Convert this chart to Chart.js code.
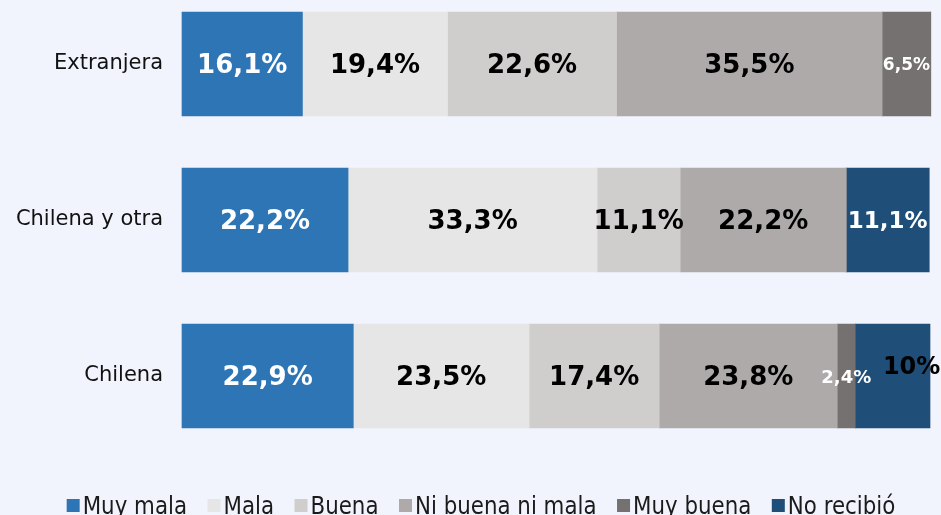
<!DOCTYPE html>
<html lang="es">
<head>
<meta charset="utf-8">
<title>Evaluación por nacionalidad</title>
<script src="https://cdn.jsdelivr.net/npm/chart.js@4.4.1/dist/chart.umd.min.js"></script>
<style>
  html, body { margin: 0; padding: 0; background: #f1f4fc; overflow: hidden; }
  #wrap { width: 941px; height: 515px; position: relative; }
</style>
</head>
<body>
<div id="wrap"><canvas id="chart" width="941" height="515"></canvas></div>
<script>
// categorias y series (porcentajes)
const categories = ["Extranjera", "Chilena y otra", "Chilena"];
const seriesNames = ["Muy mala", "Mala", "Buena", "Ni buena ni mala", "Muy buena", "No recibió"];
const muyMala = [16.1, 22.2, 22.9];
const mala = [19.4, 33.3, 23.5];
const buena = [22.6, 11.1, 17.4];
const niBuenaNiMala = [35.5, 22.2, 23.8];
const muyBuena = [6.5, 0, 2.4];
const noRecibio = [0, 11.1, 10];

const seriesValues = [muyMala, mala, buena, niBuenaNiMala, muyBuena, noRecibio];
const seriesColors = ["#2e75b6", "#e7e6e6", "#d0cecd", "#aeaaaa", "#757171", "#1f4e79"];
const labelColors = ["#ffffff", "#000000", "#000000", "#000000", "#ffffff", "#ffffff"];

// ajustes puntuales de etiquetas: "serie,categoria"
const labelTweaks = {
  "4,0": { size: 17 },
  "4,2": { size: 18 },
  "5,1": { size: 23 },
  "5,2": { size: 24, color: "#000000", dx: 19, dy: -10 }
};

const fmt = v => (Number.isInteger(v) ? String(v) : v.toFixed(1).replace(".", ",")) + "%";

// etiquetas dentro de las barras
const barLabels = {
  id: "barLabels",
  afterDatasetsDraw(chart) {
    const ctx = chart.ctx;
    ctx.save();
    ctx.textAlign = "center";
    ctx.textBaseline = "middle";
    chart.data.datasets.forEach((ds, i) => {
      const meta = chart.getDatasetMeta(i);
      meta.data.forEach((bar, j) => {
        const v = ds.data[j];
        if (!v) return;
        const t = labelTweaks[i + "," + j] || {};
        const size = t.size || 26;
        ctx.font = "bold " + size + "px 'DejaVu Sans', Verdana, sans-serif";
        ctx.fillStyle = t.color || labelColors[i];
        const cx = (bar.x + bar.base) / 2 + (t.dx || 0);
        const cy = bar.y + 2 + (t.dy || 0);
        ctx.fillText(fmt(v), cx, cy);
      });
    });
    ctx.restore();
  }
};

// leyenda inferior con cuadros pequeños
const bottomLegend = {
  id: "bottomLegend",
  afterDraw(chart) {
    const ctx = chart.ctx;
    const squeeze = 0.89;
    const box = 13, gapBox = 3, gapItem = 20.5;
    ctx.save();
    ctx.font = "24px 'DejaVu Sans', Verdana, sans-serif";
    const widths = chart.data.datasets.map(ds => ctx.measureText(ds.label).width * squeeze);
    const total = widths.reduce((a, w) => a + w + box + gapBox, 0) + gapItem * (widths.length - 1);
    let x = 481 - total / 2;
    const baseline = 513.5;
    chart.data.datasets.forEach((ds, i) => {
      ctx.fillStyle = ds.backgroundColor;
      ctx.fillRect(x, baseline - 14.5, box, box);
      x += box + gapBox;
      ctx.save();
      ctx.translate(x, baseline);
      ctx.scale(squeeze, 1);
      ctx.fillStyle = "#1a1a1a";
      ctx.textBaseline = "alphabetic";
      ctx.fillText(ds.label, 0, 0);
      ctx.restore();
      x += widths[i] + gapItem;
    });
    ctx.restore();
  }
};

new Chart(document.getElementById("chart"), {
  type: "bar",
  data: {
    labels: categories,
    datasets: seriesNames.map((name, i) => ({
      label: name,
      data: seriesValues[i],
      backgroundColor: seriesColors[i],
      borderWidth: 0,
      barThickness: 104,
      clip: false
    }))
  },
  options: {
    indexAxis: "y",
    responsive: false,
    animation: false,
    layout: { padding: { top: 64, bottom: 139, left: 0, right: 11 } },
    scales: {
      x: { stacked: true, min: 0, max: 100, display: false },
      y: {
        stacked: true,
        offset: false,
        grid: { display: false },
        border: { display: false },
        afterFit(scale) { scale.width = 182; },
        ticks: {
          padding: 11,
          color: "#111111",
          font: { family: "'DejaVu Sans', Verdana, sans-serif", size: 21 }
        }
      }
    },
    plugins: {
      legend: { display: false },
      tooltip: { enabled: false }
    }
  },
  plugins: [barLabels, bottomLegend]
});
</script>
</body>
</html>
